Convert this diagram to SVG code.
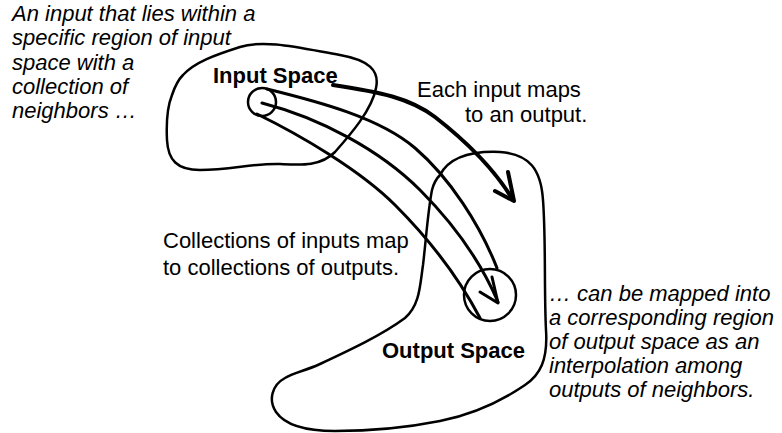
<svg xmlns="http://www.w3.org/2000/svg" width="782" height="433" viewBox="0 0 782 433">
  <style>
    .blob { fill: none; stroke: #000; stroke-width: 2.5; stroke-linejoin: round; }
    .tube { fill: none; stroke: #000; stroke-width: 3; stroke-linecap: round; stroke-linejoin: round; }
    .bold-arrow { fill: none; stroke: #000; stroke-width: 4; stroke-linecap: round; stroke-linejoin: round; }
    .ring { fill: none; stroke: #000; stroke-width: 2.5; }
    .label { font-family: "Liberation Sans", Arial, Helvetica, sans-serif; font-size: 22px; fill: #000; }
    .title { font-family: "Liberation Sans", Arial, Helvetica, sans-serif; font-size: 22px; font-weight: bold; fill: #000; }
    .note { font-family: "Liberation Sans", Arial, Helvetica, sans-serif; font-size: 22px; font-style: italic; fill: #000; }
  </style>
  <rect width="782" height="433" fill="#fff"/>

  <!-- input space region -->
  <g id="input-space">
    <path class="blob" d="M 183,75 C 195,62 215,55 240,47 C 265,39 300,48 340,55 C 368,60 380,70 376,88 C 372,110 350,135 335,152 C 320,167 300,165 280,164 C 255,163 230,170 200,170 C 177,170 168,160 167,140 C 166,120 168,105 172,95 C 175,86 178,80 183,75 Z"/>
    <text class="title" x="213" y="83">Input Space</text>
    <circle class="ring" cx="262" cy="102" r="14"/>
  </g>

  <!-- output space region -->
  <g id="output-space">
    <path class="blob" d="M 440,175 C 450,156 475,151 500,152 C 530,154 541,170 543,200 C 546,240 544,290 546,330 C 548,360 540,375 525,385 C 500,402 470,415 440,421 C 410,427 370,431 335,431 C 305,431 285,425 276,412 C 268,400 272,385 285,378 C 295,372 305,371 320,364 C 350,350 382,335 405,318 C 420,305 420,285 423,265 C 426,240 428,210 432,190 C 434,182 437,178 440,175 Z"/>
    <text class="title" x="382" y="358">Output Space</text>
    <circle class="ring" cx="490" cy="295" r="26"/>
  </g>

  <!-- connectors -->
  <g id="connectors">
    <!-- single input mapped to a single output -->
    <path class="bold-arrow" d="M 333,85 C 380,92 410,98 435,117 C 462,138 492,165 513,200"/>
    <path class="bold-arrow" d="M 495,191 L 514,201 L 508,172"/>
    <!-- collection of inputs mapped to collection of outputs -->
    <path class="tube" d="M 267,89 C 320,102 380,118 415,148 C 450,178 480,225 497,268"/>
    <path class="tube" d="M 257,114 C 300,135 360,170 395,205 C 430,240 460,280 480,318"/>
    <path class="tube" d="M 262,103 C 320,118 380,150 420,190 C 455,225 480,260 498,302"/>
    <path class="tube" d="M 480,292 L 498,303 L 492,277"/>
  </g>

  <!-- annotations -->
  <g id="note-input">
    <text class="note" x="12" y="21">An input that lies within a</text>
    <text class="note" x="12" y="45">specific region of input</text>
    <text class="note" x="12" y="70">space with a</text>
    <text class="note" x="12" y="94">collection of</text>
    <text class="note" x="12" y="118">neighbors …</text>
  </g>
  <g id="note-each">
    <text class="label" x="417" y="97">Each input maps</text>
    <text class="label" x="465" y="122">to an output.</text>
  </g>
  <g id="note-collections">
    <text class="label" x="163" y="248">Collections of inputs map</text>
    <text class="label" x="163" y="275">to collections of outputs.</text>
  </g>
  <g id="note-output">
    <text class="note" x="549" y="301">… can be mapped into</text>
    <text class="note" x="549" y="325">a corresponding region</text>
    <text class="note" x="549" y="349">of output space as an</text>
    <text class="note" x="549" y="373">interpolation among</text>
    <text class="note" x="549" y="397">outputs of neighbors.</text>
  </g>
</svg>
